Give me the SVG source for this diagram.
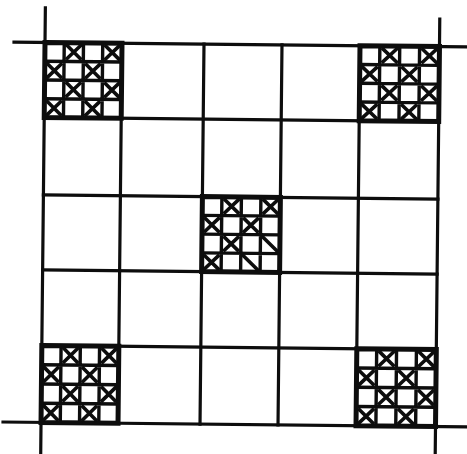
<svg xmlns="http://www.w3.org/2000/svg" xmlns:xlink="http://www.w3.org/1999/xlink" width="467" height="454" viewBox="0 0 467 454">
<style>
.g{fill:none;stroke:#0d0d0d;stroke-width:3.2;stroke-linecap:square}
.ob{fill:none;stroke:#0d0d0d;stroke-width:5;vector-effect:non-scaling-stroke;stroke-linejoin:miter}
.ib{fill:none;stroke:#0d0d0d;stroke-width:3.4;vector-effect:non-scaling-stroke}
.xx{fill:none;stroke:#0d0d0d;stroke-width:3.6;vector-effect:non-scaling-stroke}
</style>
<defs>
<g id="sub">
<path class="ib" d="M1 0V4M2 0V4M3 0V4M0 1H4M0 2H4M0 3H4"/>
<path class="ob" d="M0 0H4V4H0Z"/>
</g>
<path id="xs" class="xx" d="M1.1 .1L1.9 .9M1.9 .1L1.1 .9M3.1 .1L3.9 .9M3.9 .1L3.1 .9M.1 1.1L.9 1.9M.9 1.1L.1 1.9M2.1 1.1L2.9 1.9M2.9 1.1L2.1 1.9M1.1 2.1L1.9 2.9M1.9 2.1L1.1 2.9M3.1 2.1L3.9 2.9M3.9 2.1L3.1 2.9M.1 3.1L.9 3.9M.9 3.1L.1 3.9M2.1 3.1L2.9 3.9M2.9 3.1L2.1 3.9"/>
</defs>
<rect width="467" height="454" fill="#fff"/>
<g transform="rotate(0.6 240 235)">
<g id="grid">
<path class="g" d="M12 44.5H480M43 119.5H437.5M43 197H437.5M43 272H437.5M43 347.5H437.5M5 424.5H480"/>
<path class="g" d="M43 10V470M120 44.5V424.5M202 44.5V424.5M280 44.5V424.5M358 44.5V424.5M437.5 17V470"/>
</g>
<g id="block-top-left" transform="translate(43 44.5) scale(19.25 18.75)">
<use xlink:href="#sub"/><use xlink:href="#xs"/>
</g>
<g id="block-top-right" transform="translate(358 44.5) scale(19.875 18.75)">
<use xlink:href="#sub"/><use xlink:href="#xs"/>
</g>
<g id="block-center" transform="translate(202 197) scale(19.5 18.75)">
<use xlink:href="#sub"/>
<path class="xx" d="M1.1 .1L1.9 .9M1.9 .1L1.1 .9M3.1 .1L3.9 .9M3.9 .1L3.1 .9M.1 1.1L.9 1.9M.9 1.1L.1 1.9M2.1 1.1L2.9 1.9M2.9 1.1L2.1 1.9M1.1 2.1L1.9 2.9M1.9 2.1L1.1 2.9M3 2L4 3M.1 3.1L.9 3.9M.9 3.1L.1 3.9M2 3L3 4"/>
</g>
<g id="block-bottom-left" transform="translate(43 347.5) scale(19.25 19.25)">
<use xlink:href="#sub"/><use xlink:href="#xs"/>
</g>
<g id="block-bottom-right" transform="translate(358 347.5) scale(19.875 19.25)">
<use xlink:href="#sub"/><use xlink:href="#xs"/>
</g>
</g>
</svg>
